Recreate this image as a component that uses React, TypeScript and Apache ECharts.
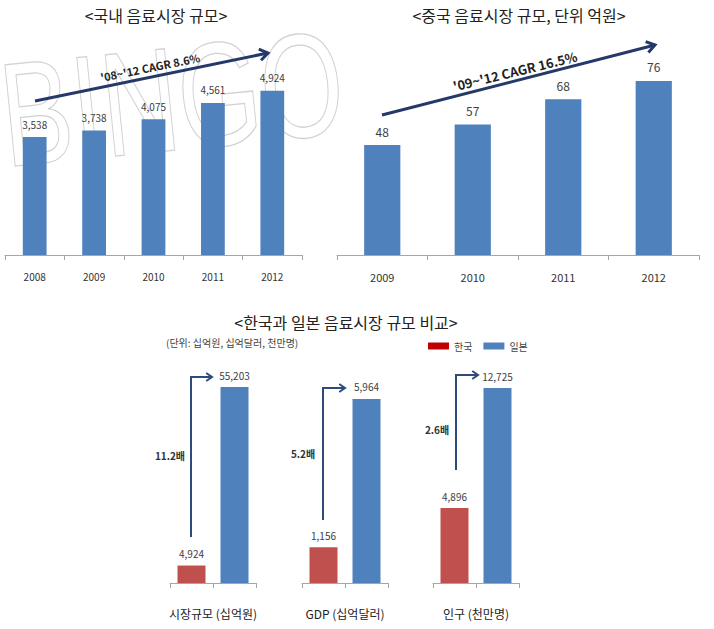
import React, { useEffect, useRef } from 'react';
import * as echarts from 'echarts';

const koreaYears = ['2008', '2009', '2010', '2011', '2012'];
const koreaMarket = [3538, 3738, 4075, 4561, 4924];
const chinaYears = ['2009', '2010', '2011', '2012'];
const chinaMarket = [48, 57, 68, 76];
const compareGroups = ['시장규모 (십억원)', 'GDP (십억달러)', '인구 (천만명)'];
const koreaValues = [4924, 1156, 4896];
const japanValues = [55203, 5964, 12725];
const ratioLabels = ['11.2배', '5.2배', '2.6배'];

const FONT = '"Noto Sans CJK KR", "Noto Sans", sans-serif';
const BLUE = '#4f81bd';
const RED = '#c0504d';
const NAVY = '#24386a';
const AXIS = '#a6a6a6';

const fmt = (v: number) => v.toLocaleString('en-US');

function arrowHead(x1: number, y1: number, x2: number, y2: number, color: string, w: number, len: number) {
  const a = Math.atan2(y2 - y1, x2 - x1);
  const s = 0.6;
  return {
    type: 'polyline',
    z: 50,
    shape: {
      points: [
        [x2 - len * Math.cos(a - s), y2 - len * Math.sin(a - s)],
        [x2, y2],
        [x2 - len * Math.cos(a + s), y2 - len * Math.sin(a + s)],
      ],
    },
    style: { stroke: color, lineWidth: w, fill: 'none', lineJoin: 'miter' },
  };
}

function straightArrow(x1: number, y1: number, x2: number, y2: number) {
  return [
    { type: 'line', z: 50, shape: { x1, y1, x2, y2 }, style: { stroke: NAVY, lineWidth: 3 } },
    arrowHead(x1, y1, x2, y2, NAVY, 3, 10),
  ];
}

function elbowArrow(x: number, yBottom: number, yTop: number, xEnd: number) {
  return [
    {
      type: 'polyline',
      z: 50,
      shape: { points: [[x, yBottom], [x, yTop], [xEnd, yTop]] },
      style: { stroke: '#2e4b7c', lineWidth: 2, fill: 'none' },
    },
    arrowHead(x, yTop, xEnd, yTop, '#2e4b7c', 2, 7),
  ];
}

export default function App() {
  const ref = useRef<HTMLDivElement>(null);

  useEffect(() => {
    if (!ref.current) return;
    const chart = echarts.init(ref.current, undefined, { renderer: 'svg' });

    const bottomLeft = [170, 302, 433];
    const bottomMax = [62000, 7130, 14360];

    const grids: any[] = [
      { left: 5, top: 55, width: 297, height: 200 },
      { left: 337, top: 26, width: 362, height: 229 },
      ...bottomLeft.map((l) => ({ left: l, top: 363, width: 86, height: 220 })),
    ];

    const baseX = {
      type: 'category',
      axisLine: { lineStyle: { color: AXIS, width: 1 } },
      axisTick: { show: true, length: 5, lineStyle: { color: AXIS } },
      splitLine: { show: false },
    };

    const xAxes: any[] = [
      {
        ...baseX,
        gridIndex: 0,
        data: koreaYears,
        axisLabel: { fontSize: 10, color: '#333', margin: 16, fontFamily: FONT },
      },
      {
        ...baseX,
        gridIndex: 1,
        data: chinaYears,
        axisLabel: { fontSize: 11, color: '#333', margin: 16, fontFamily: FONT },
      },
      ...compareGroups.map((g, i) => ({
        ...baseX,
        gridIndex: 2 + i,
        data: ['한국', '일본'],
        axisLabel: { show: false },
        name: g,
        nameLocation: 'middle',
        nameGap: 24,
        nameTextStyle: { fontSize: 12, color: '#222', fontFamily: FONT },
      })),
    ];

    const baseY = {
      type: 'value',
      min: 0,
      show: false,
      splitLine: { show: false },
    };
    const yAxes: any[] = [
      { ...baseY, gridIndex: 0, max: 6000 },
      { ...baseY, gridIndex: 1, max: 100 },
      ...bottomMax.map((m, i) => ({ ...baseY, gridIndex: 2 + i, max: m })),
    ];

    const series: any[] = [
      {
        type: 'bar',
        name: '국내',
        xAxisIndex: 0,
        yAxisIndex: 0,
        data: koreaMarket,
        barWidth: '40%',
        itemStyle: { color: BLUE },
        label: {
          show: true,
          position: 'top',
          distance: 8,
          fontSize: 10,
          color: '#404040',
          fontFamily: FONT,
          formatter: (p: any) => fmt(p.value),
        },
      },
      {
        type: 'bar',
        name: '중국',
        xAxisIndex: 1,
        yAxisIndex: 1,
        data: chinaMarket,
        barWidth: '40%',
        itemStyle: { color: BLUE },
        label: {
          show: true,
          position: 'top',
          distance: 8,
          fontSize: 12,
          color: '#404040',
          fontFamily: FONT,
          formatter: (p: any) => fmt(p.value),
        },
      },
    ];

    compareGroups.forEach((_, i) => {
      const lbl = {
        show: true,
        position: 'top',
        distance: 7,
        fontSize: 10,
        color: '#404040',
        fontFamily: FONT,
        formatter: (p: any) => fmt(p.value),
      };
      series.push({
        type: 'bar',
        name: '한국',
        xAxisIndex: 2 + i,
        yAxisIndex: 2 + i,
        stack: 'g' + i,
        barWidth: 28,
        data: [koreaValues[i], '-'],
        itemStyle: { color: RED },
        label: lbl,
      });
      series.push({
        type: 'bar',
        name: '일본',
        xAxisIndex: 2 + i,
        yAxisIndex: 2 + i,
        stack: 'g' + i,
        barWidth: 28,
        data: ['-', japanValues[i]],
        itemStyle: { color: BLUE },
        label: lbl,
      });
    });

    const ratioPos = [
      { x: 170, y: 455 },
      { x: 303, y: 453 },
      { x: 437, y: 429 },
    ];

    const graphic: any[] = [
      {
        type: 'text',
        z: 0,
        x: -6,
        y: 42,
        rotation: 0.1,
        scaleX: 0.72,
        style: {
          text: 'BINGO',
          font: '148px "Liberation Sans", sans-serif',
          fill: 'rgba(0,0,0,0)',
          stroke: '#d2d2d2',
          lineWidth: 1.3,
          verticalAlign: 'top',
        },
      },
      {
        type: 'text',
        x: 156,
        y: 15,
        style: { text: '<국내 음료시장 규모>', font: `16px ${FONT}`, fill: '#222', align: 'center', verticalAlign: 'middle' },
      },
      {
        type: 'text',
        x: 519,
        y: 15,
        style: { text: '<중국 음료시장 규모, 단위 억원>', font: `16px ${FONT}`, fill: '#222', align: 'center', verticalAlign: 'middle' },
      },
      {
        type: 'text',
        x: 346,
        y: 322,
        style: { text: '<한국과 일본 음료시장 규모 비교>', font: `16px ${FONT}`, fill: '#222', align: 'center', verticalAlign: 'middle' },
      },
      {
        type: 'text',
        x: 166,
        y: 342,
        style: { text: '(단위: 십억원, 십억달러, 천만명)', font: `10px ${FONT}`, fill: '#444', align: 'left', verticalAlign: 'middle' },
      },
      ...straightArrow(35, 101, 268, 53),
      {
        type: 'text',
        z: 50,
        x: 150,
        y: 67,
        rotation: 0.2,
        style: { text: "'08~'12 CAGR 8.6%", font: `bold 11px ${FONT}`, fill: '#222', align: 'center', verticalAlign: 'middle' },
      },
      ...straightArrow(382, 115, 655, 45),
      {
        type: 'text',
        z: 50,
        x: 515,
        y: 71,
        rotation: 0.24,
        style: { text: "'09~'12 CAGR 16.5%", font: `bold 13px ${FONT}`, fill: '#222', align: 'center', verticalAlign: 'middle' },
      },
      ...elbowArrow(191, 537, 377, 212),
      ...elbowArrow(323, 520, 388, 345),
      ...elbowArrow(456, 470, 375, 478),
      ...ratioLabels.map((t, i) => ({
        type: 'text',
        z: 50,
        x: ratioPos[i].x,
        y: ratioPos[i].y,
        style: { text: t, font: `bold 10px ${FONT}`, fill: '#333', align: 'center', verticalAlign: 'middle' },
      })),
    ];

    chart.setOption({
      animation: false,
      textStyle: { fontFamily: FONT },
      grid: grids,
      xAxis: xAxes,
      yAxis: yAxes,
      series,
      legend: {
        left: 423,
        top: 336,
        itemWidth: 21,
        itemHeight: 7,
        itemGap: 11,
        icon: 'rect',
        textStyle: { fontSize: 10, color: '#444', fontFamily: FONT },
        data: [
          { name: '한국', itemStyle: { color: '#c00000' } },
          { name: '일본', itemStyle: { color: BLUE } },
        ],
      },
      graphic,
    });

    return () => chart.dispose();
  }, []);

  return (
    <div
      ref={ref}
      style={{ position: 'fixed', left: 0, top: 0, width: 714, height: 629, background: '#fff' }}
    />
  );
}
